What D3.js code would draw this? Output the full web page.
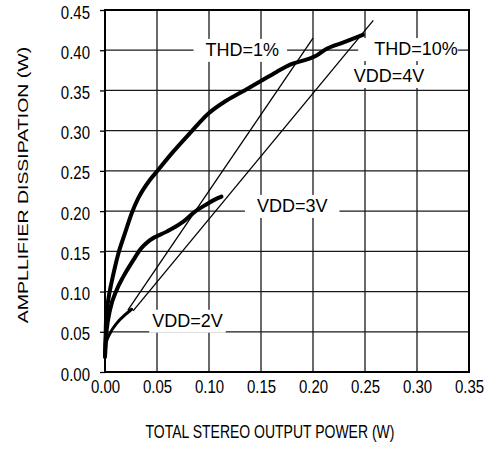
<!DOCTYPE html>
<html>
<head>
<meta charset="utf-8">
<script src="https://cdn.jsdelivr.net/npm/d3@7"></script>
<style>
  html, body { margin: 0; padding: 0; background: #fff; }
  svg { display: block; }
  text { font-family: "Liberation Sans", Arial, Helvetica, sans-serif; fill: #000; }
</style>
</head>
<body>
<svg id="chart" width="499" height="457"></svg>
<script>
// ---- data ----
const xTicks = [0.00, 0.05, 0.10, 0.15, 0.20, 0.25, 0.30, 0.35];
const yTicks = [0.00, 0.05, 0.10, 0.15, 0.20, 0.25, 0.30, 0.35, 0.40, 0.45];

const vdd4 = [[0.000,0.019],[0.0005,0.040],[0.001,0.065],[0.0032,0.090],[0.0064,0.112],[0.0095,0.130],
  [0.0128,0.147],[0.0192,0.1725],[0.0256,0.197],[0.032,0.216],[0.0433,0.239],[0.0497,0.249],
  [0.065,0.273],[0.0817,0.297],[0.100,0.322],[0.115,0.336],[0.130,0.347],[0.149,0.361],
  [0.165,0.373],[0.178,0.382],[0.195,0.389],[0.203,0.393],[0.212,0.401],[0.230,0.410],[0.248,0.419]];
const vdd3 = [[0.000,0.019],[0.0005,0.035],[0.0016,0.052],[0.0048,0.077],[0.0112,0.102],[0.0176,0.1185],
  [0.0272,0.139],[0.0337,0.152],[0.0433,0.164],[0.0593,0.1745],[0.0753,0.187],[0.0865,0.1994],
  [0.0978,0.2085],[0.105,0.214],[0.112,0.218]];
const vdd2 = [[0.000,0.019],[0.001,0.036],[0.0048,0.048],[0.0112,0.0605],[0.0192,0.0709],[0.0256,0.078]];
const thd1 = [[0.022,0.077],[0.200,0.415]];
const thd10 = [[0.027,0.076],[0.258,0.437]];

const labels = [
  {text: "THD=1%",  x: 0.132, y: 0.393, padL: 12, padR: 8},
  {text: "THD=10%", x: 0.299, y: 0.394, padL: 16, padR: 0},
  {text: "VDD=4V",  x: 0.273, y: 0.3605, padL: 3, padR: 3},
  {text: "VDD=3V",  x: 0.180, y: 0.199, padL: 12, padR: 12},
  {text: "VDD=2V",  x: 0.0793, y: 0.0563, padL: 3, padR: 3}
];

// ---- layout ----
const svg = d3.select("#chart");
const L = 105, R = 469, T = 10, B = 372;
const x = d3.scaleLinear().domain([0, 0.35]).range([L, R]);
const y = d3.scaleLinear().domain([0, 0.45]).range([B, T]);

// grid
svg.append("g").selectAll("line").data(xTicks.slice(1, -1)).join("line")
  .attr("x1", d => x(d)).attr("x2", d => x(d)).attr("y1", T).attr("y2", B)
  .attr("stroke", "#1a1a1a").attr("stroke-width", 1.3);
svg.append("g").selectAll("line").data(yTicks.slice(1, -1)).join("line")
  .attr("y1", d => y(d)).attr("y2", d => y(d)).attr("x1", L).attr("x2", R)
  .attr("stroke", "#1a1a1a").attr("stroke-width", 1.3);

// label backgrounds
const fs = 18;
const labG = svg.append("g");
labels.forEach(l => {
  const t = labG.append("text").attr("x", x(l.x)).attr("y", y(l.y))
    .attr("text-anchor", "middle").attr("font-size", fs).text(l.text);
  const bb = t.node().getBBox();
  labG.insert("rect", "text").attr("x", bb.x - l.padL).attr("y", bb.y - 1)
    .attr("width", bb.width + l.padL + l.padR).attr("height", bb.height + 3).attr("fill", "#fff");
});

// curves
const line = d3.line().x(d => x(d[0])).y(d => y(d[1])).curve(d3.curveMonotoneX);
const straight = d3.line().x(d => x(d[0])).y(d => y(d[1]));
svg.append("path").attr("d", straight(thd1)).attr("fill", "none").attr("stroke", "#000").attr("stroke-width", 1.3);
svg.append("path").attr("d", straight(thd10)).attr("fill", "none").attr("stroke", "#000").attr("stroke-width", 1.3);
[[vdd4, 4], [vdd3, 4], [vdd2, 3]].forEach(([data, w]) => {
  svg.append("path").attr("d", line(data)).attr("fill", "none").attr("stroke", "#000")
    .attr("stroke-width", w).attr("stroke-linecap", "round").attr("stroke-linejoin", "round");
});

// frame
svg.append("rect").attr("x", L).attr("y", T).attr("width", R - L).attr("height", B - T)
  .attr("fill", "none").attr("stroke", "#000").attr("stroke-width", 2);

// axes
const yAxis = d3.axisLeft(y).tickValues(yTicks).tickFormat(d3.format(".2f")).tickSize(5).tickPadding(10);
const gy = svg.append("g").attr("transform", `translate(${L},0)`).call(yAxis);
gy.select(".domain").remove();
gy.selectAll("line").attr("stroke", "#000").attr("stroke-width", 1.3);
gy.selectAll("text").attr("font-size", 15).attr("dy", null).attr("y", 0)
  .attr("transform", "translate(0,8) scale(1,1.18)").attr("fill", "#000");

const xAxis = d3.axisBottom(x).tickValues(xTicks).tickFormat(d3.format(".2f")).tickSize(0).tickPadding(0);
const gx = svg.append("g").attr("transform", `translate(0,${B})`).call(xAxis);
gx.select(".domain").remove();
gx.selectAll("text").attr("font-size", 15).attr("dy", null).attr("y", 0)
  .attr("transform", "translate(0,21) scale(1,1.18)").attr("fill", "#000");

// titles
svg.append("text").attr("transform", "translate(270,438) scale(1,1.3)").attr("text-anchor", "middle")
  .attr("font-size", 14).text("TOTAL STEREO OUTPUT POWER (W)");
svg.append("text").attr("transform", "translate(28,185) scale(1,1.3) rotate(-90)").attr("text-anchor", "middle")
  .attr("font-size", 15).text("AMPLLIFIER DISSIPATION (W)");
</script>
</body>
</html>
